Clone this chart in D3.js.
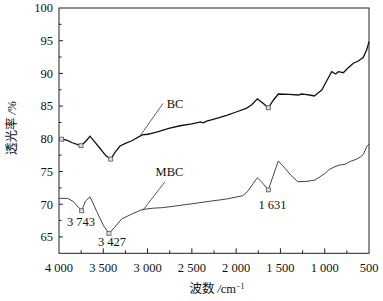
<!DOCTYPE html>
<html><head><meta charset="utf-8">
<script src="https://cdn.jsdelivr.net/npm/d3@7"></script>
<style>body{margin:0;background:#fff}svg{display:block}</style>
</head><body>
<script>
// Data (wavenumber cm^-1, transmittance %)
const bcWave = [4000,3970,3913,3850,3752,3700,3650,3540,3470,3416,3370,3311,3250,3179,3060,3000,2953,2879,2760,2634,2500,2400,2371,2350,2332,2200,2107,2000,1881,1824,1761,1693,1637,1580,1524,1400,1298,1260,1223,1170,1118,1034,980,921,876,847,790,740,677,620,564,526,500];
const bcT    = [80.0,79.95,79.8,79.4,78.95,79.6,80.4,78.6,77.4,76.9,77.9,78.9,79.3,79.7,80.6,80.7,80.85,81.1,81.6,82.0,82.3,82.6,82.45,82.6,82.7,83.2,83.6,84.1,84.7,85.2,86.1,85.4,84.75,85.9,86.85,86.8,86.7,86.85,86.8,86.7,86.55,87.45,88.8,90.26,89.9,90.26,90.1,90.8,91.55,91.9,92.46,93.6,94.85];
const mbcWave = [4000,3902,3839,3744,3700,3650,3574,3500,3436,3376,3292,3179,3060,2935,2841,2700,2484,2300,2107,1926,1874,1761,1712,1637,1524,1449,1380,1305,1200,1110,997,950,884,830,771,720,658,600,564,526,500];
const mbcT    = [70.9,70.9,70.4,69.0,70.5,71.15,68.9,66.8,65.55,66.4,67.75,68.5,69.2,69.4,69.47,69.7,70.1,70.45,70.8,71.3,71.9,74.05,73.4,72.2,76.6,75.5,74.4,73.45,73.5,73.7,74.7,75.3,75.75,76.0,76.1,76.5,76.8,77.2,77.6,78.8,79.2];
const bcMarks  = [3970,3752,3416,1637];
const mbcMarks = [3744,3436,1637];
const peakLabels = ["3 743","3 427","1 631"];
const xTickLabels = ["4 000","3 500","3 000","2 500","2 000","1 500","1 000","500"];
const xTickValues = [4000,3500,3000,2500,2000,1500,1000,500];
const yTickValues = [65,70,75,80,85,90,95,100];

const W = 383, H = 301;
const m = {l:59, r:14, t:8, b:47.7};
const svg = d3.select("body").append("svg").attr("width",W).attr("height",H);
const x = d3.scaleLinear().domain([4000,500]).range([m.l, W-m.r]);
const y = d3.scaleLinear().domain([62.5,100]).range([H-m.b, m.t]);
const font = "'Liberation Serif','Times New Roman',serif";

// frame
svg.append("rect").attr("x",x(4000)).attr("y",y(100)).attr("width",x(500)-x(4000)).attr("height",y(62.5)-y(100))
  .attr("fill","none").attr("stroke","#222").attr("stroke-width",1);

// y ticks (inward)
const yMinor = d3.range(65,100,2.5);
svg.append("g").selectAll("line").data(yMinor).join("line")
  .attr("x1",x(4000)).attr("x2",d=> x(4000)+(d%5===0?4:2.5))
  .attr("y1",d=>y(d)).attr("y2",d=>y(d)).attr("stroke","#222");
svg.append("g").selectAll("text").data(yTickValues).join("text")
  .attr("x",x(4000)-6).attr("y",d=>y(d)).attr("dy","0.35em").attr("text-anchor","end")
  .attr("font-family",font).attr("font-size",12.5).attr("fill","#111").text(d=>d);

// x ticks (inward)
const xMinor = d3.range(750,4000,250);
svg.append("g").selectAll("line").data(xMinor).join("line")
  .attr("x1",d=>x(d)).attr("x2",d=>x(d))
  .attr("y1",y(62.5)).attr("y2",d=> y(62.5)-(d%500===0?5:3)).attr("stroke","#222");
svg.append("g").selectAll("text").data(xTickValues).join("text")
  .attr("x",d=>x(d)).attr("y",H-m.b+14).attr("dy","0.35em").attr("text-anchor","middle")
  .attr("font-family",font).attr("font-size",12.5).attr("fill","#111").text((d,i)=>xTickLabels[i]);

// axis titles
const xt = svg.append("text").attr("x",217).attr("y",289).attr("dy","0.35em").attr("text-anchor","middle")
  .attr("font-size",12.5).attr("fill","#111");
xt.append("tspan").attr("font-family","'Noto Sans CJK SC',sans-serif").text("波数 ");
xt.append("tspan").attr("font-family",font).attr("font-style","italic").text("/");
xt.append("tspan").attr("font-family",font).text("cm");
xt.append("tspan").attr("font-family",font).attr("font-size",8).attr("dy","-0.6em").text("−1");

const yt = svg.append("text").attr("transform","translate(12,128) rotate(-90)").attr("dy","0.35em")
  .attr("text-anchor","middle").attr("font-size",12.5).attr("fill","#111");
yt.append("tspan").attr("font-family","'Noto Sans CJK SC',sans-serif").text("透光率 ");
yt.append("tspan").attr("font-family",font).attr("font-style","italic").text("/%");

// lines
const line = d3.line().x(d=>x(d[0])).y(d=>y(d[1]));
const bc = bcWave.map((w,i)=>[w,bcT[i]]);
const mbc = mbcWave.map((w,i)=>[w,mbcT[i]]);
svg.append("path").attr("d",line(mbc)).attr("fill","none").attr("stroke","#444").attr("stroke-width",1);
svg.append("path").attr("d",line(bc)).attr("fill","none").attr("stroke","#111").attr("stroke-width",1.3);

// markers
function valueAt(arrW, arrT, w){ return arrT[arrW.indexOf(w)]; }
svg.append("g").selectAll("rect").data(bcMarks).join("rect")
  .attr("x",d=>x(d)-2).attr("y",d=>y(valueAt(bcWave,bcT,d))-2).attr("width",4).attr("height",4)
  .attr("fill","#ddd").attr("stroke","#555").attr("stroke-width",0.8);
svg.append("g").selectAll("rect").data(mbcMarks).join("rect")
  .attr("x",d=>x(d)-2).attr("y",d=>y(valueAt(mbcWave,mbcT,d))-2).attr("width",4).attr("height",4)
  .attr("fill","#ddd").attr("stroke","#555").attr("stroke-width",0.8);

// series labels with leaders
svg.append("line").attr("x1",163).attr("y1",103.5).attr("x2",140.7).attr("y2",135).attr("stroke","#333").attr("stroke-width",0.8);
svg.append("text").attr("x",175).attr("y",104).attr("dy","0.35em").attr("text-anchor","middle")
  .attr("font-family",font).attr("font-size",12.5).attr("fill","#111").text("BC");
svg.append("line").attr("x1",165).attr("y1",181.7).attr("x2",142.7).attr("y2",210.5).attr("stroke","#333").attr("stroke-width",0.8);
svg.append("text").attr("x",169.5).attr("y",172).attr("dy","0.35em").attr("text-anchor","middle")
  .attr("font-family",font).attr("font-size",12.5).attr("fill","#111").text("MBC");

// peak labels
const peakPos = [[81,221.5],[112,242],[272.5,205]];
svg.append("g").selectAll("text").data(peakLabels).join("text")
  .attr("x",(d,i)=>peakPos[i][0]).attr("y",(d,i)=>peakPos[i][1]).attr("dy","0.35em").attr("text-anchor","middle")
  .attr("font-family",font).attr("font-size",12.5).attr("fill","#111").text(d=>d);
</script>
</body></html>
